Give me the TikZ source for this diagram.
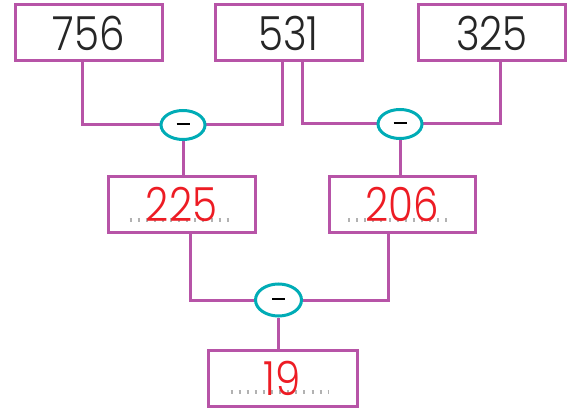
\documentclass[tikz,border=0pt]{standalone}
\usepackage{fontspec}
\setmainfont{Poppins Light}[FakeStretch=0.86]
\usepackage{tikz}
\usetikzlibrary{shapes.geometric}
\usepackage{xcolor}
\definecolor{boxpink}{RGB}{183,84,167}
\definecolor{opcyan}{RGB}{0,172,182}
\definecolor{answerred}{RGB}{237,28,36}
\definecolor{tickgray}{RGB}{178,178,178}
\tikzset{
    num-box/.style = {draw=boxpink, line width=3pt, fill=white, rectangle, minimum width=147pt, minimum height=56pt, inner sep=0pt, font=\fontsize{47}{47}\selectfont, text=black!85},
    answer/.style = {text=answerred},
    op-oval/.style = {draw=opcyan, line width=3pt, fill=white, ellipse, minimum width=44pt, minimum height=29pt, inner sep=0pt},
    link/.style = {draw=boxpink, line width=3pt},
    dots/.style = {draw=tickgray, line width=4pt, dash pattern=on 2pt off 6.1pt},
}
\begin{document}
\begin{tikzpicture}[x=1pt,y=-1pt]
\useasboundingbox (0,0) rectangle (580,411);
% first row
\node [num-box] (a) at (88.5,33) {756};
\node [num-box] (b) at (288.5,33) {531};
\node [num-box] (c) at (492,33) {325};
% connectors of first row
\draw [link] ([xshift=-6.5pt]a.south) |- (183,125);
\draw [link] ([xshift=-6.5pt]b.south) |- (183,125);
\draw [link] ([xshift=13.5pt]b.south) |- (400,124);
\draw [link] ([xshift=8pt]c.south) |- (400,124);
\node [op-oval] (m1) at (183,125) {\rule[0.25ex]{13pt}{2pt}};
\node [op-oval] (m2) at (400,124) {\rule[0.25ex]{13pt}{2pt}};
% second row
\node [num-box, minimum width=147pt] (d) at (181.5,204.5) {};
\node [num-box, minimum width=146pt] (e) at (402,204.5) {};
\draw [dots] ([xshift=-52pt,yshift=-15.5pt]d.center) -- ([xshift=47pt,yshift=-15.5pt]d.center);
\draw [dots] ([xshift=-54pt,yshift=-15.5pt]e.center) -- ([xshift=46pt,yshift=-15.5pt]e.center);
\node [num-box, draw=none, fill=none, answer] at (d.center) {225};
\node [num-box, draw=none, fill=none, answer] at (e.center) {206};
\draw [link] (m1.south) -- (m1.south |- d.north);
\draw [link] (m2.south) -- (m2.south |- e.north);
% last row
\draw [link] ([xshift=8.5pt]d.south) |- (278.5,300);
\draw [link] ([xshift=-14pt]e.south) |- (278.5,300);
\node [op-oval, minimum width=46pt, minimum height=32pt] (m3) at (278.5,300) {\rule[0.25ex]{13pt}{2pt}};
\node [num-box, minimum width=149pt] (f) at (282.5,378) {};
\draw [dots] ([xshift=-52pt,yshift=-14pt]f.center) -- ([xshift=46pt,yshift=-14pt]f.center);
\node [num-box, draw=none, fill=none, answer] at (f.center) {19};
\draw [link] (m3.south) -- (m3.south |- f.north);
\end{tikzpicture}
\end{document}
